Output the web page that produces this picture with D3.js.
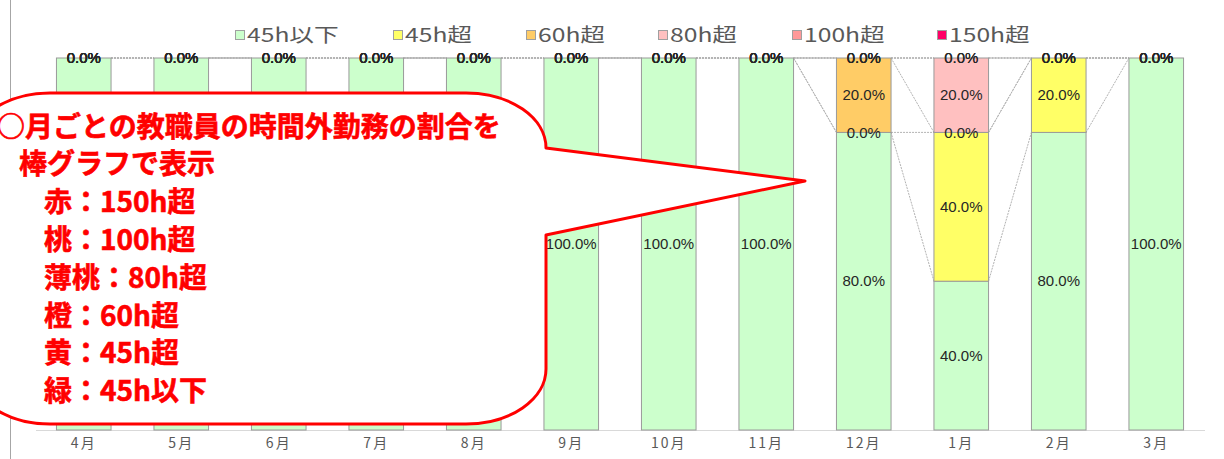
<!DOCTYPE html>
<html>
<head>
  <meta charset="UTF-8">
  <title>時間外勤務の割合</title>
  <style>
    body { margin: 0; background: #fff; }
    #chart { width: 1224px; height: 459px; overflow: hidden; }
    .label { font: 15px "Liberation Sans", Arial, sans-serif; fill: #262626; text-anchor: middle; }
    .legend text { font: 19px "Noto Sans CJK JP", sans-serif; fill: #595959; }
    .xaxis text { font: 14px "Noto Sans CJK JP", sans-serif; fill: #595959; letter-spacing: 2px; }
    .callout text { font: bold 28px "Noto Sans CJK JP", sans-serif; fill: #ff0000; stroke: #ff0000; stroke-width: 0.6px; }
  </style>
</head>
<body>
  <div id="chart"></div>

  <script src="https://cdn.jsdelivr.net/npm/d3@7"></script>
  <script>
    // months and series (percent of staff per month)
    const months = ["4月", "5月", "6月", "7月", "8月", "9月", "10月", "11月", "12月", "1月", "2月", "3月"];
    const seriesNames = ["45h以下", "45h超", "60h超", "80h超", "100h超", "150h超"];
    const seriesColors = ["#ccffcc", "#ffff66", "#ffcc66", "#ffc0c0", "#ff9999", "#ff0066"];

    const under45 = [1, 1, 1, 1, 1, 1, 1, 1, 0.8, 0.4, 0.8, 1];
    const over45  = [0, 0, 0, 0, 0, 0, 0, 0, 0, 0.4, 0.2, 0];
    const over60  = [0, 0, 0, 0, 0, 0, 0, 0, 0.2, 0, 0, 0];
    const over80  = [0, 0, 0, 0, 0, 0, 0, 0, 0, 0.2, 0, 0];
    const over100 = [0, 0, 0, 0, 0, 0, 0, 0, 0, 0, 0, 0];
    const over150 = [0, 0, 0, 0, 0, 0, 0, 0, 0, 0, 0, 0];

    const calloutLines = [
      "○月ごとの教職員の時間外勤務の割合を",
      "棒グラフで表示",
      "赤：150h超",
      "桃：100h超",
      "薄桃：80h超",
      "橙：60h超",
      "黄：45h超",
      "緑：45h以下"
    ];

    // build table for d3.stack
    const cols = [under45, over45, over60, over80, over100, over150];
    const table = months.map((m, i) => {
      const row = { month: m };
      seriesNames.forEach((s, k) => row[s] = cols[k][i]);
      return row;
    });
    const stacked = d3.stack().keys(seriesNames)(table);

    const width = 1224, height = 459;
    const svg = d3.select("#chart").append("svg")
      .attr("width", width)
      .attr("height", height);

    const x = d3.scaleBand().domain(months).range([35, 1205])
      .paddingInner(0.44).paddingOuter(0.22);
    const y = d3.scaleLinear().domain([0, 1]).range([430, 58]);
    const bw = x.bandwidth();

    // chart border on the left
    svg.append("line")
      .attr("x1", 10.5).attr("x2", 10.5)
      .attr("y1", 0).attr("y2", height)
      .attr("stroke", "#a6a6a6");

    // series lines between bars
    const sl = svg.append("g").attr("fill", "none")
      .attr("stroke", "#b3b3b3").attr("stroke-width", 1)
      .attr("stroke-dasharray", "2,1");
    stacked.forEach(layer => {
      for (let i = 0; i < months.length - 1; i++) {
        sl.append("line")
          .attr("x1", x(months[i]) + bw).attr("y1", y(layer[i][1]))
          .attr("x2", x(months[i + 1])).attr("y2", y(layer[i + 1][1]));
      }
    });

    // x axis
    svg.append("line")
      .attr("x1", 36).attr("x2", 1205)
      .attr("y1", 430.5).attr("y2", 430.5)
      .attr("stroke", "#d9d9d9");

    const xAxis = svg.append("g").attr("class", "xaxis")
      .attr("transform", "translate(0,430)")
      .call(d3.axisBottom(x).tickSize(0).tickPadding(8));
    xAxis.select(".domain").remove();
    xAxis.selectAll("text").attr("font-family", null).attr("font-size", null);

    // bars
    const fmt = d3.format(".1%");
    const layers = svg.append("g").selectAll("g")
      .data(stacked).join("g")
      .attr("fill", (d, k) => seriesColors[k]);

    layers.selectAll("rect")
      .data(d => d.filter(p => p[1] - p[0] > 0))
      .join("rect")
      .attr("x", d => x(d.data.month))
      .attr("y", d => y(d[1]))
      .attr("width", bw)
      .attr("height", d => y(d[0]) - y(d[1]))
      .attr("stroke", "#9a9a9a")
      .attr("stroke-width", 1);

    // data labels (zero segments overlap at the boundary like in Excel)
    svg.append("g").selectAll("g")
      .data(stacked).join("g")
      .selectAll("text")
      .data(d => d.map(p => ({ p, v: p[1] - p[0] })))
      .join("text")
      .attr("class", "label")
      .attr("x", d => x(d.p.data.month) + bw / 2)
      .attr("y", d => y((d.p[0] + d.p[1]) / 2))
      .attr("dy", "0.35em")
      .text(d => fmt(d.v));

    // legend
    const legX = [235, 393, 526, 658, 792, 937];
    const legend = svg.append("g").attr("class", "legend");
    seriesNames.forEach((s, k) => {
      const g = legend.append("g").attr("transform", `translate(${legX[k]},35)`);
      g.append("rect")
        .attr("x", 0.5).attr("y", -4.5)
        .attr("width", 9).attr("height", 9)
        .attr("fill", seriesColors[k])
        .attr("stroke", "#a0a0a0");
      g.append("text")
        .attr("transform", "translate(12,0) scale(1.3,1)")
        .attr("dy", "0.36em")
        .text(s);
    });

    // speech bubble callout
    const L = -30, R = 546, T = 93, B = 424, rx = 80, ry = 55;
    const tip = [805, 181];
    const bubble = [
      `M${L + rx},${T}`,
      `L${R - rx},${T}`,
      `A${rx},${ry} 0 0 1 ${R},${T + ry}`,
      `L${tip[0]},${tip[1]}`,
      `L${R},235`,
      `L${R},${B - ry}`,
      `A${rx},${ry} 0 0 1 ${R - rx},${B}`,
      `L${L + rx},${B}`,
      `A${rx},${ry} 0 0 1 ${L},${B - ry}`,
      `L${L},${T + ry}`,
      `A${rx},${ry} 0 0 1 ${L + rx},${T}`,
      "Z"
    ].join(" ");

    const callout = svg.append("g").attr("class", "callout");
    callout.append("path")
      .attr("d", bubble)
      .attr("fill", "#fff")
      .attr("stroke", "#ff0000")
      .attr("stroke-width", 3)
      .attr("stroke-linejoin", "round");

    const lineX = [-3, 19, 44, 44, 44, 44, 44, 44];
    callout.selectAll("text")
      .data(calloutLines)
      .join("text")
      .attr("x", (d, i) => lineX[i])
      .attr("y", (d, i) => 126 + i * 37.8)
      .attr("dy", "0.38em")
      .text(d => d);
  </script>
</body>
</html>
